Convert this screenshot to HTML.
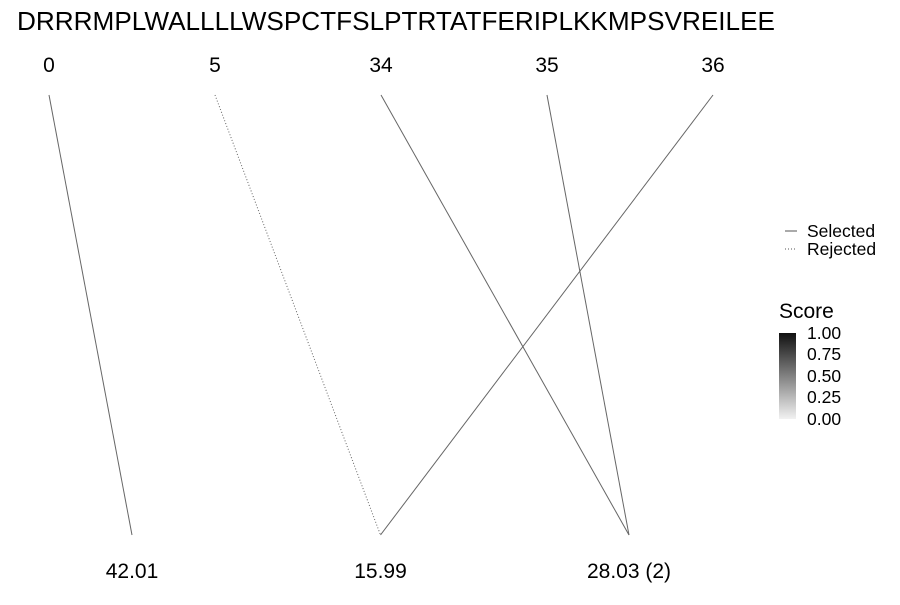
<!DOCTYPE html>
<html><head><meta charset="utf-8"><style>body{margin:0;background:#fff}svg{font-family:"Liberation Sans",sans-serif}</style></head>
<body>
<svg width="900" height="600">
<defs><linearGradient id="g" x1="0" y1="1" x2="0" y2="0"><stop offset="0" stop-color="#f2f2f2"/><stop offset="1" stop-color="#111"/></linearGradient></defs>
<text x="17" y="30" font-size="22" textLength="758" lengthAdjust="spacingAndGlyphs" style="font-size:25.5px">DRRRMPLWALLLLWSPCTFSLPTRTATFERIPLKKMPSVREILEE</text>
<g id="plot"></g>
<g>
<line x1="785" y1="231" x2="797" y2="231" stroke="#555"/>
<text x="807" y="237" font-size="17.5">Selected</text>
<line x1="785" y1="249" x2="797" y2="249" stroke="#555" stroke-dasharray="1,2"/>
<text x="807" y="255" font-size="17.5">Rejected</text>
<text x="779" y="318" font-size="21">Score</text>
<rect x="779" y="333" width="17" height="86" fill="url(#g)"/>
<g font-size="17.5">
<text x="807" y="339">1.00</text><text x="807" y="360">0.75</text><text x="807" y="382">0.50</text><text x="807" y="403">0.25</text><text x="807" y="425">0.00</text></g>
</g>
</svg>
<script>
const topLabels=["0","5","34","35","36"];
const bottomLabels=["42.01","15.99","28.03 (2)"];
const links=[[0,0,1],[1,1,0],[2,2,1],[3,2,1],[4,1,1]]; // [top, bottom, selected]
const topX=i=>49+i*166, botX=i=>132+i*248.5;
const ns="http://www.w3.org/2000/svg", g=document.getElementById("plot");
topLabels.forEach((t,i)=>{const e=document.createElementNS(ns,"text");e.setAttribute("x",topX(i));e.setAttribute("y",72);e.setAttribute("font-size","21");e.setAttribute("text-anchor","middle");e.textContent=t;


g.appendChild(e);});
bottomLabels.forEach((t,i)=>{const e=document.createElementNS(ns,"text");e.setAttribute("x",botX(i));e.setAttribute("y",578);e.setAttribute("font-size","21");e.setAttribute("text-anchor","middle");e.textContent=t;


g.appendChild(e);});
links.forEach(l=>{const e=document.createElementNS(ns,"line");e.setAttribute("x1",topX(l[0]));e.setAttribute("y1",95);e.setAttribute("x2",botX(l[1]));e.setAttribute("y2",535);e.setAttribute("stroke","#666");e.setAttribute("stroke-width","1");if(!l[2])e.setAttribute("stroke-dasharray","1,2");


g.appendChild(e);});
</script>
</body></html>
